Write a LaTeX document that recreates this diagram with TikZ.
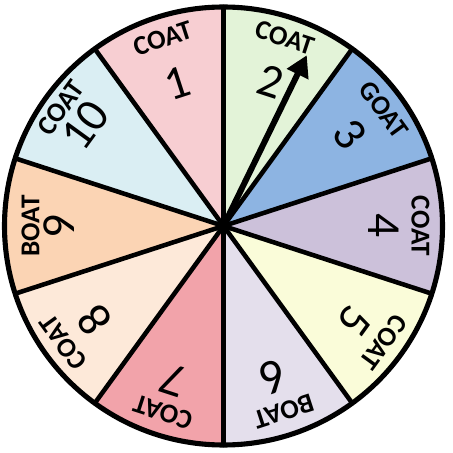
\documentclass[tikz,border=0pt]{standalone}
\usepackage{fontspec}
\setmainfont{Carlito}
\usetikzlibrary{arrows.meta}
\definecolor{secA}{HTML}{F7CED2}
\definecolor{secB}{HTML}{E3F3D8}
\definecolor{secC}{HTML}{8DB4E2}
\definecolor{secD}{HTML}{CCC1DA}
\definecolor{secE}{HTML}{FAFCD9}
\definecolor{secF}{HTML}{E4DFEC}
\definecolor{secG}{HTML}{F2A3AA}
\definecolor{secH}{HTML}{FDE9D9}
\definecolor{secI}{HTML}{FBD4B4}
\definecolor{secJ}{HTML}{DAEEF3}
\begin{document}
\begin{tikzpicture}[x=0.02cm, y=0.02cm,
  rim/.style={draw=black, line width=2.9pt},
  spoke/.style={draw=black, line width=2.6pt, line cap=round},
  word/.style={font=\bfseries\fontsize{15.5}{15.5}\selectfont, inner sep=0pt},
  num/.style={font=\fontsize{27}{27}\selectfont, inner sep=0pt},
  pointer/.style={-{Triangle[length=12pt, width=13pt]}, line width=3.4pt}
]
\useasboundingbox (-223.5,-227) rectangle (229.5,226);
\coordinate (hub) at (0,0);
% sectors
\foreach \i/\col/\word/\rw/\rn in {1/secA/COAT/197/150, 2/secB/COAT/198/152, 3/secC/GOAT/198/156,
  4/secD/COAT/197/160, 5/secE/COAT/198/162, 6/secF/BOAT/195/159, 7/secG/COAT/196/162,
  8/secH/COAT/198/160, 9/secI/BOAT/193/164, 10/secJ/COAT/201/171} {
  \pgfmathsetmacro\mid{144-36*\i}
  \fill[\col] (hub) -- (\mid+18:219) arc[start angle=\mid+18, end angle=\mid-18, radius=219] -- cycle;
  \node[word, rotate=\mid-90] (w\i) at (\mid:\rw) {\word};
  \node[num, rotate=\mid-90] (n\i) at (\mid:\rn) {\i};
}
\foreach \a in {0,...,9}
  \draw[spoke] (hub) -- (90-36*\a:219);
\draw[rim] (hub) circle[radius=219];
% pointer
\coordinate (tip) at (64:190);
\draw[pointer] (hub) -- (tip);
\end{tikzpicture}
\end{document}
